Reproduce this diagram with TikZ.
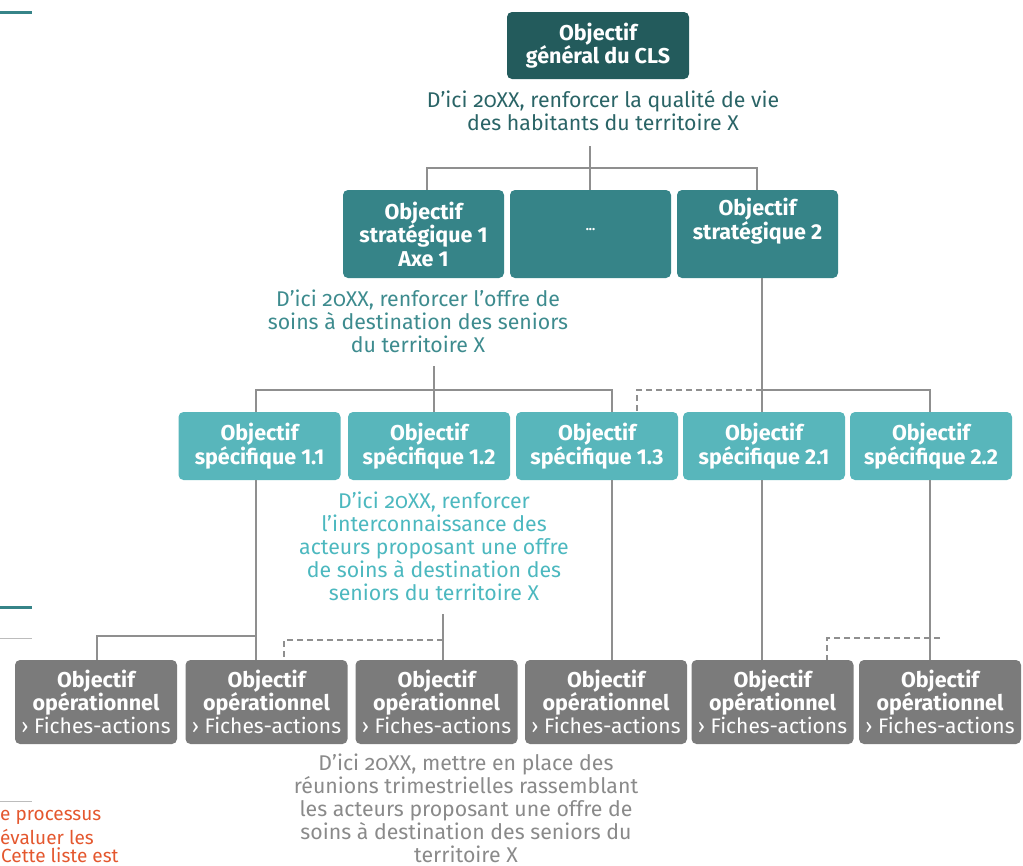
\documentclass[tikz,border=0pt]{standalone}
\usepackage{fontspec}
\setmainfont{Fira Sans}
\newfontfamily\descfont[Numbers=OldStyle]{Fira Sans}
\definecolor{cgen}{HTML}{235B5C}
\definecolor{cgent}{HTML}{2A6466}
\definecolor{cstr}{HTML}{368488}
\definecolor{cstrt}{HTML}{3D8B8E}
\definecolor{cspe}{HTML}{58B6BB}
\definecolor{cspet}{HTML}{4CB8BF}
\definecolor{cop}{HTML}{7B7B7B}
\definecolor{copt}{HTML}{8A8A8A}
\definecolor{cline}{HTML}{8F8F8F}
\definecolor{corange}{HTML}{E4572E}
\tikzset{
  x=1pt, y=-1pt,
  box/.style={rectangle, rounded corners=5pt, text=white, align=center, inner sep=0pt,
    font=\fontsize{21.5}{23.5}\selectfont\bfseries},
  genbox/.style={box, fill=cgen, minimum width=182pt, minimum height=67pt},
  strbox/.style={box, fill=cstr, minimum width=161pt, minimum height=88pt},
  spebox/.style={box, fill=cspe, minimum width=162pt, minimum height=68pt},
  opbox/.style={box, fill=cop, minimum width=162pt, minimum height=84pt},
  desc/.style={align=center, inner sep=0pt, font=\descfont\fontsize{21.3}{23}\selectfont},
  conn/.style={draw=cline, line width=2.4pt},
  dconn/.style={draw=cline, line width=2.4pt, dash pattern=on 6pt off 4pt},
  side/.style={anchor=west, inner sep=0pt, text=corange, font=\fontsize{19}{20}\selectfont},
}
\begin{document}
\begin{tikzpicture}
\useasboundingbox (0,0) rectangle (1023,865);
\clip (0,0) rectangle (1023,865);

% left-margin decorations
\draw[cstr, line width=3pt] (0,12) -- (32,12);
\draw[cstr, line width=3pt] (0,607) -- (32,607);
\draw[cline!60, line width=1pt] (0,638) -- (32,638);
\draw[cline!60, line width=1pt] (0,801) -- (32,801);
\node[side] (or1) at (0,817) {e processus};
\node[side] (or2) at (0,837) {évaluer les};
\node[side] (or3) at (1,855) {Cette liste est};

% general objective
\node[genbox] (g) at (598,45.5) {Objectif\\général du CLS};
\node[desc, text=cgent] (gt) at (603,111) {D’ici 20XX, renforcer la qualité de vie\\des habitants du territoire X};

% strategic objectives
\node[strbox] (s1) at (423.5,234) {Objectif\\stratégique 1\\Axe 1};
\node[strbox] (sd) at (590.5,234) {\raisebox{9pt}{\fontsize{13}{13}\selectfont ...}};
\node[strbox] (s2) at (757.5,234) {Objectif\\stratégique 2\\\strut};
\node[desc, text=cstrt] (st1) at (418,321) {D’ici 20XX, renforcer l’offre de\\soins à destination des seniors\\du territoire X};

% specific objectives
\node[spebox] (p11) at (259.5,446) {Objectif\\spécifique 1.1};
\node[spebox] (p12) at (429,446) {Objectif\\spécifique 1.2};
\node[spebox] (p13) at (597,446) {Objectif\\spécifique 1.3};
\node[spebox] (p21) at (764,446) {Objectif\\spécifique 2.1};
\node[spebox] (p22) at (931,446) {Objectif\\spécifique 2.2};
\node[desc, text=cspet] (pt12) at (434,546) {D’ici 20XX, renforcer\\l’interconnaissance des\\acteurs proposant une offre\\de soins à destination des\\seniors du territoire X};

% operational objectives
\foreach \n/\cx in {1/96,2/266.5,3/436.5,4/606,5/772.5,6/940}{
  \node[opbox] (o\n) at (\cx,702) {Objectif\\opérationnel\\[-0.5pt]{\mdseries\fontsize{21}{23}\selectfont › Fiches-actions}};
}
\node[desc, text=copt] (ot3) at (466,808) {D’ici 20XX, mettre en place des\\réunions trimestrielles rassemblant\\les acteurs proposant une offre de\\soins à destination des seniors du\\territoire X};

% junction coordinates
\coordinate (j0) at (590,168);
\coordinate (j1) at (434,390);
\coordinate (j2) at (762,390);
\coordinate (j3) at (256,636);
\coordinate (j4) at (443,640);
\coordinate (j5) at (827,638);

% connectors level 1
\draw[conn] (j0 |- 0,146) -- (j0);
\draw[conn] (j0) -- (sd.north -| j0);
\draw[conn] (s1.north -| 427,0) |- (j0) -| (s2.north -| 757,0);

% connectors level 2
\draw[conn] (j1 |- 0,366) -- (j1);
\draw[conn] (p11.north -| j3) |- (j1) -| (p13.north -| 612,0);
\draw[conn] (j1) -- (p12.north -| j1);
\draw[conn] (s2.south -| j2) -- (p21.north -| j2);
\draw[conn] (j2) -| (p22.north -| 930,0);
\draw[dconn] (j2) -| (p13.north -| 637,0);

% connectors level 3
\draw[conn] (p11.south -| j3) -- (o2.north -| j3);
\draw[conn] (j3) -| (o1.north -| 97,0);
\draw[conn] (j4 |- 0,614) -- (o3.north -| j4);
\draw[dconn] (j4) -| (o2.north -| 284,0);
\draw[conn] (p13.south -| 612,0) -- (o4.north -| 612,0);
\draw[conn] (p21.south -| 762,0) -- (o5.north -| 762,0);
\draw[conn] (p22.south -| 930,0) -- (o6.north -| 930,0);
\draw[dconn] (940,638) -- (j5) -- (o5.north -| j5);
\end{tikzpicture}
\end{document}
